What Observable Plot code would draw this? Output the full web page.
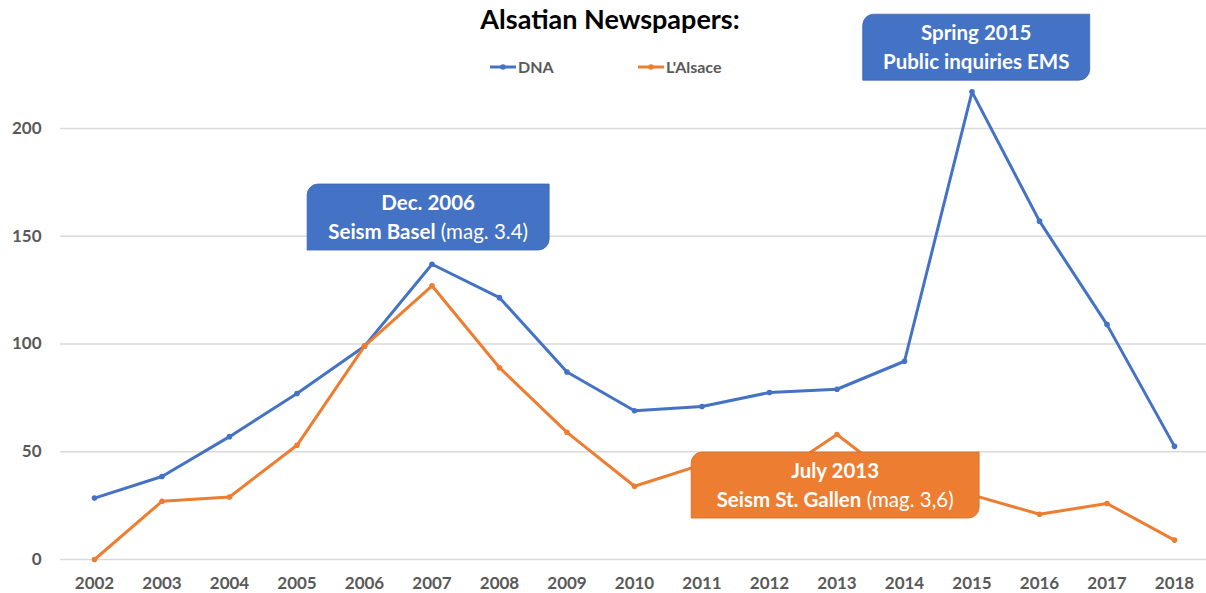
<!DOCTYPE html>
<html>
<head>
<meta charset="utf-8">
<script src="https://cdn.jsdelivr.net/npm/d3@7"></script>
<script src="https://cdn.jsdelivr.net/npm/@observablehq/plot@0.6"></script>
<style>
  html, body { margin: 0; padding: 0; background: #fff; }
  #chart { width: 1206px; height: 593px; }
  #chart svg { font-family: Lato, "Open Sans", sans-serif; }
  #chart svg g[aria-label^="y-axis"] text, #chart svg g[aria-label^="x-axis"] text {
    fill: #595959; font-weight: bold; font-size: 17px;
  }
</style>
</head>
<body>
<div id="chart"></div>
<script>
// ---- data ----
const years = [2002, 2003, 2004, 2005, 2006, 2007, 2008, 2009, 2010, 2011, 2012, 2013, 2014, 2015, 2016, 2017, 2018];
const dnaValues = [28.5, 38.5, 57, 77, 99, 137, 121.5, 87, 69, 71, 77.5, 79, 92, 217, 157, 109, 52.5];
const alsaceValues = [0, 27, 29, 53, 99, 127, 89, 59, 34, 44, 37, 58, 34, 30, 21, 26, 9];
const seriesNames = ["DNA", "L'Alsace"];
const seriesColors = ["#4472C4", "#ED7D31"];
const yTicks = [0, 50, 100, 150, 200];
const titleText = "Alsatian Newspapers:";

// annotations (anchor in data units)
const annLine1 = ["Dec. 2006", "Spring 2015", "July 2013"];
const annLine2Bold = ["Seism Basel", "Public inquiries EMS", "Seism St. Gallen"];
const annLine2Normal = ["(mag. 3.4)", "", "(mag. 3,6)"];
const annYear = [2006.95, 2015.07, 2012.98];
const annValue = [158.7, 237.5, 34.3];
const annColor = ["#4472C4", "#4472C4", "#ED7D31"];
const annWidth = [242, 227, 288];

// ---- build tidy table ----
const rows = [];
years.forEach((yr, i) => {
  rows.push({year: yr, value: dnaValues[i], series: seriesNames[0]});
  rows.push({year: yr, value: alsaceValues[i], series: seriesNames[1]});
});
const annotations = annLine1.map((t, i) => ({
  l1: t, l2b: annLine2Bold[i], l2n: annLine2Normal[i],
  year: annYear[i], value: annValue[i], color: annColor[i], w: annWidth[i]
}));

function calloutMark(index, scales, values, dimensions) {
  const g = d3.create("svg:g").attr("aria-label", "callouts");
  const h = 66, r = 11;
  for (const a of annotations) {
    const cx = scales.x(a.year), cy = scales.y(a.value);
    const x0 = cx - a.w / 2, x1 = cx + a.w / 2, y0 = cy - h / 2, y1 = cy + h / 2;
    g.append("path")
      .attr("d", `M${x0 + r},${y0}H${x1}V${y1 - r}A${r},${r} 0 0 1 ${x1 - r},${y1}H${x0}V${y0 + r}A${r},${r} 0 0 1 ${x0 + r},${y0}Z`)
      .attr("fill", a.color)
      .attr("stroke", d3.color(a.color).darker(0.3))
      .attr("stroke-width", 0.8);
    g.append("text")
      .attr("x", cx).attr("y", cy - 14).attr("dy", "0.35em")
      .attr("text-anchor", "middle").attr("fill", "#fff")
      .attr("font-size", 20.5).attr("font-weight", "bold")
      .text(a.l1);
    const t2 = g.append("text")
      .attr("x", cx).attr("y", cy + 15).attr("dy", "0.35em")
      .attr("text-anchor", "middle").attr("fill", "#fff")
      .attr("font-size", 20.5);
    t2.append("tspan").attr("font-weight", "bold").text(a.l2b);
    if (a.l2n) t2.append("tspan").attr("font-weight", "normal").text(" " + a.l2n);
  }
  return g.node();
}

const chart = Plot.plot({
  width: 1206,
  height: 593,
  marginLeft: 94,
  marginRight: 32,
  marginTop: 20.25,
  marginBottom: 34,
  x: {type: "linear", domain: [2002, 2018], ticks: years, tickFormat: d => String(d), tickSize: 0, tickPadding: 17, label: null},
  y: {domain: [0, 250], ticks: yTicks, tickSize: 0, tickPadding: 53, label: null},
  color: {domain: seriesNames, range: seriesColors},
  marks: [
    Plot.ruleY(yTicks, {stroke: "#d9d9d9", strokeWidth: 1.5, insetLeft: -34, insetRight: -32}),
    Plot.line(rows, {x: "year", y: "value", z: "series", stroke: "series", strokeWidth: 3, curve: "linear"}),
    Plot.dot(rows, {x: "year", y: "value", fill: "series", r: 2.8}),
    calloutMark
  ]
});

document.getElementById("chart").appendChild(chart);

// title and legend (real text)
const svg = d3.select(chart);
svg.append("text")
  .attr("x", 610).attr("y", 29)
  .attr("text-anchor", "middle")
  .attr("font-size", 27).attr("font-weight", "bold").attr("fill", "#000")
  .text(titleText);
const legendX = [490, 638];
seriesNames.forEach((name, i) => {
  const lg = svg.append("g").attr("transform", `translate(${legendX[i]},67)`);
  lg.append("line").attr("x1", 0).attr("x2", 26).attr("y1", 0).attr("y2", 0)
    .attr("stroke", seriesColors[i]).attr("stroke-width", 3);
  lg.append("circle").attr("cx", 13).attr("cy", 0).attr("r", 2.8).attr("fill", seriesColors[i]);
  lg.append("text").attr("x", 28).attr("y", 0).attr("dy", "0.35em")
    .attr("text-anchor", "start")
    .attr("font-size", 16).attr("font-weight", "bold").attr("fill", "#595959")
    .text(name);
});
</script>
</body>
</html>
